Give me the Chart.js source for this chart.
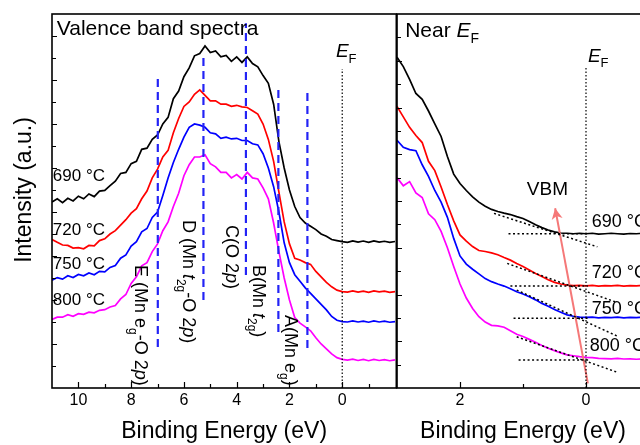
<!DOCTYPE html>
<html>
<head>
<meta charset="utf-8">
<script src="https://cdn.jsdelivr.net/npm/chart.js@4.4.1/dist/chart.umd.min.js"></script>
<style>
    html, body { margin: 0; padding: 0; background: #fff; overflow: hidden; }
    #wrap { position: relative; width: 640px; height: 445px; overflow: hidden; }
    #wrap canvas { position: absolute; top: 0; }
    #bandChart { left: 0; }
    #nearChart { left: 390px; }
</style>
</head>
<body>
<div id="wrap">
    <canvas id="bandChart" width="398" height="445"></canvas>
    <canvas id="nearChart" width="262" height="445"></canvas>
</div>
<script>
const FONT = '"Liberation Sans", Arial, sans-serif';

// 左图：价带谱 (binding energy, eV)
const energyWide = [11.0, 10.8, 10.6, 10.4, 10.2, 10.0, 9.8, 9.6, 9.4, 9.2, 9.0, 8.8, 8.6, 8.4, 8.2, 8.0, 7.8, 7.6, 7.4, 7.2,
    7.0, 6.8, 6.6, 6.4, 6.2, 6.0, 5.8, 5.6, 5.4, 5.2, 5.0, 4.8, 4.6, 4.4, 4.2, 4.0, 3.8, 3.6, 3.4, 3.2,
    3.0, 2.8, 2.6, 2.4, 2.2, 2.0, 1.8, 1.6, 1.4, 1.2, 1.0, 0.8, 0.6, 0.4, 0.2, 0.0, -0.2, -0.4, -0.6, -0.8,
    -1.0, -1.2, -1.4, -1.6, -1.8, -2.0];
const wide690 = [8.45, 8.6, 8.42, 8.62, 8.5, 8.72, 8.6, 8.82, 8.7, 8.95, 8.98, 9.2, 9.4, 9.75, 9.8, 10.2, 10.3, 10.85, 10.9, 11.3,
    11.5, 12.0, 12.3, 13.15, 13.5, 14.15, 14.55, 15.1, 15.2, 15.55, 15.25, 15.32, 15.05, 15.12, 14.85, 15.05, 14.8, 15.05, 14.75, 14.6,
    14.2, 13.85, 12.9, 11.2, 10.0, 9.0, 8.25, 7.75, 7.5, 7.35, 7.2, 7.0, 6.9, 6.75, 6.7, 6.65, 6.62, 6.69, 6.63, 6.68,
    6.62, 6.69, 6.63, 6.67, 6.62, 6.66];
const wide720 = [6.75, 6.62, 6.5, 6.48, 6.36, 6.38, 6.33, 6.48, 6.46, 6.7, 6.78, 7.0, 7.15, 7.4, 7.65, 7.95, 8.15, 8.6, 8.95, 9.55,
    9.95, 10.5, 10.8, 11.6, 12.25, 12.8, 13.0, 13.35, 13.55, 13.3, 13.05, 13.05, 12.9, 12.9, 12.8, 12.85, 12.78, 12.75, 12.6, 12.45,
    12.0, 11.3, 10.3, 8.9, 7.55, 6.55, 5.9, 5.82, 5.7, 5.62, 5.3, 5.05, 4.8, 4.6, 4.45, 4.38, 4.36, 4.41, 4.36, 4.4,
    4.35, 4.41, 4.37, 4.4, 4.35, 4.38];
const wide750 = [4.9, 5.02, 4.95, 5.1, 5.02, 5.16, 5.1, 5.23, 5.15, 5.3, 5.28, 5.48, 5.57, 5.9, 6.05, 6.45, 6.65, 7.1, 7.25, 7.75,
    8.0, 8.75, 9.55, 10.25, 10.85, 11.4, 11.85, 12.0, 11.95, 11.85, 11.6, 11.55, 11.35, 11.4, 11.32, 11.35, 11.25, 11.25, 11.1, 11.05,
    10.65, 10.0, 9.15, 8.0, 6.6, 5.7, 5.15, 4.85, 4.55, 4.3, 4.05, 3.8, 3.55, 3.25, 3.08, 3.02, 3.0, 3.05, 3.0, 3.04,
    2.99, 3.05, 3.0, 3.04, 2.99, 3.02];
const wide800 = [3.12, 3.22, 3.22, 3.33, 3.26, 3.38, 3.35, 3.45, 3.42, 3.53, 3.56, 3.68, 3.75, 4.05, 4.25, 4.75, 5.05, 5.55, 5.7, 6.2,
    6.55, 7.15, 7.55, 8.25, 8.85, 9.65, 10.15, 10.5, 10.5, 10.6, 10.2, 10.05, 9.8, 9.8, 9.55, 9.7, 9.5, 9.8, 9.55, 9.5,
    9.1, 8.6, 7.5, 6.2, 5.0, 4.0, 3.2, 2.95, 2.78, 2.6, 2.28, 2.0, 1.78, 1.55, 1.38, 1.3, 1.27, 1.31, 1.25, 1.3,
    1.24, 1.3, 1.25, 1.29, 1.24, 1.28];

// 右图：费米能级附近
const energyNear = [3.0, 2.9, 2.8, 2.7, 2.6, 2.5, 2.4, 2.3, 2.2, 2.1, 2.0, 1.9, 1.8, 1.7, 1.6, 1.5, 1.4, 1.3, 1.2, 1.1,
    1.0, 0.9, 0.8, 0.7, 0.6, 0.5, 0.4, 0.3, 0.2, 0.1, 0.0, -0.1, -0.2, -0.3, -0.4, -0.5, -0.6, -0.7, -0.8, -0.9, -1.0];
const near690 = [14.15, 13.75, 13.2, 12.6, 12.35, 11.85, 11.3, 10.76, 9.9, 9.15, 8.75, 8.45, 8.18, 7.95, 7.78, 7.64, 7.55, 7.48, 7.42, 7.33,
    7.25, 7.12, 6.98, 6.86, 6.76, 6.68, 6.63, 6.62, 6.6, 6.62, 6.6, 6.62, 6.58, 6.6, 6.62, 6.6, 6.58, 6.61, 6.6, 6.62, 6.6];
const near720 = [12.05, 11.6, 11.15, 10.8, 10.5, 9.7, 9.3, 8.6, 7.85, 7.15, 6.55, 6.28, 6.05, 5.88, 5.84, 5.78, 5.7, 5.58, 5.47, 5.33,
    5.2, 5.05, 4.9, 4.77, 4.63, 4.52, 4.45, 4.4, 4.38, 4.39, 4.37, 4.39, 4.36, 4.38, 4.37, 4.39, 4.36, 4.38, 4.37, 4.39, 4.37];
const near750 = [10.6, 10.3, 10.2, 10.15, 9.55, 9.05, 8.45, 7.95, 7.3, 6.4, 5.65, 5.3, 5.08, 4.88, 4.68, 4.55, 4.45, 4.36, 4.25, 4.12,
    4.02, 3.9, 3.77, 3.62, 3.5, 3.36, 3.24, 3.13, 3.07, 3.03, 3.02, 3.03, 3.0, 3.02, 3.01, 3.03, 3.0, 3.02, 3.01, 3.03, 3.01];
const near800 = [9.0, 8.65, 8.83, 8.35, 8.15, 7.45, 7.2, 6.7, 6.0, 5.2, 4.45, 3.85, 3.4, 3.05, 2.82, 2.68, 2.66, 2.6, 2.45, 2.3,
    2.2, 2.08, 1.96, 1.82, 1.7, 1.6, 1.5, 1.42, 1.38, 1.34, 1.31, 1.3, 1.27, 1.26, 1.25, 1.27, 1.24, 1.25, 1.23, 1.25, 1.24];

const temperatures = ['690 °C', '720 °C', '750 °C', '800 °C'];
const seriesColors = ['#000000', '#ff0000', '#0000ff', '#ff00ff'];

const wideTickLabels = [10, 8, 6, 4, 2, 0];
const nearTickLabels = [2, 0];

// 峰位 A~E (eV) 以及竖虚线的上下端
const peakEnergy = [1.32, 2.42, 3.65, 5.26, 6.99];
const peakLow = [1.82, 2.55, 5.14, 4.0, 1.86];
const peakHigh = [13.6, 13.64, 16.58, 15.2, 14.23];

// VBM 线性外推：[E1, I1, E2, I2]
const tangentLines = [
    [1.46, 7.47, -0.18, 6.04],
    [1.25, 5.33, -0.5, 3.65],
    [1.1, 4.19, -0.52, 2.19],
    [1.1, 2.19, -0.5, 0.67]
];
const baseLines = [
    [1.23, 6.6, -0.03, 6.6],
    [1.2, 4.36, -0.03, 4.36],
    [1.15, 2.98, -0.03, 2.98],
    [1.07, 1.2, -0.05, 1.2]
];
const vbmArrow = [-0.03, 0.2, 0.49, 7.69];

Chart.defaults.font.family = FONT;
Chart.defaults.color = '#000';

function curve(energies, values, color) {
    return {
        data: energies.map((e, i) => ({ x: e, y: values[i] })),
        borderColor: color, borderWidth: 1.7, pointRadius: 0, tension: 0, fill: false
    };
}

function segment(p, color, width, dash) {
    return {
        data: [{ x: p[0], y: p[1] }, { x: p[2], y: p[3] }],
        borderColor: color, borderWidth: width, borderDash: dash, pointRadius: 0, fill: false
    };
}

// 画多段文字（斜体 / 下标）
function drawRuns(ctx, runs, size) {
    let x = 0;
    runs.forEach(r => {
        const sub = r[1] === 'sub';
        const it = r[1] === 'it';
        const s = sub ? Math.round(size * 0.68) : size;
        ctx.font = (it ? 'italic ' : '') + s + 'px ' + FONT;
        ctx.fillText(r[0], x, sub ? size * 0.3 : 0);
        x += ctx.measureText(r[0]).width;
    });
}

// 向内的刻度 + 边框
const framePlugin = {
    id: 'frame',
    afterDraw(chart) {
        const { ctx, chartArea: a, scales: { x, y } } = chart;
        ctx.save();
        ctx.strokeStyle = '#000';
        ctx.lineWidth = 1.2;
        ctx.beginPath();
        x.ticks.forEach(t => {
            const v = t.value;
            if (!Number.isInteger(v)) return;
            const px = Math.round(x.getPixelForValue(v)) + 0.5;
            if (px <= a.left + 2 || px >= a.right - 2) return;
            const len = v % 2 === 0 ? 6 : 4;
            ctx.moveTo(px, a.bottom);
            ctx.lineTo(px, a.bottom - len);
        });
        y.ticks.forEach(t => {
            const v = t.value;
            if (!Number.isInteger(v)) return;
            const py = Math.round(y.getPixelForValue(v)) + 0.5;
            if (py <= a.top + 2 || py >= a.bottom - 2) return;
            const len = v % 2 === 0 ? 5 : 4;
            ctx.moveTo(a.left, py);
            ctx.lineTo(a.left + len, py);
        });
        ctx.stroke();
        ctx.lineWidth = 1.6;
        ctx.strokeRect(a.left, a.top, a.right - a.left, a.bottom - a.top);
        ctx.restore();
    }
};

function labelPlugin(labels) {
    return {
        id: 'labels',
        afterDraw(chart) {
            const { ctx, scales: { x, y } } = chart;
            ctx.save();
            ctx.fillStyle = '#000';
            labels.forEach(l => {
                ctx.save();
                ctx.translate(x.getPixelForValue(l.e), y.getPixelForValue(l.i));
                if (l.rot) ctx.rotate(l.rot * Math.PI / 2);
                ctx.textAlign = l.center ? 'center' : 'left';
                ctx.textBaseline = l.center ? 'middle' : 'alphabetic';
                drawRuns(ctx, l.runs, l.size);
                ctx.restore();
            });
            ctx.restore();
        }
    };
}

const arrowPlugin = {
    id: 'arrowHead',
    afterDatasetsDraw(chart) {
        const { ctx, scales: { x, y } } = chart;
        const x1 = x.getPixelForValue(vbmArrow[0]), y1 = y.getPixelForValue(vbmArrow[1]);
        const x2 = x.getPixelForValue(vbmArrow[2]), y2 = y.getPixelForValue(vbmArrow[3]);
        const ang = Math.atan2(y2 - y1, x2 - x1);
        ctx.save();
        ctx.fillStyle = 'rgb(245,120,120)';
        ctx.translate(x2, y2);
        ctx.rotate(ang);
        ctx.beginPath();
        ctx.moveTo(0, 0);
        ctx.lineTo(-11, -5.5);
        ctx.lineTo(-8, 0);
        ctx.lineTo(-11, 5.5);
        ctx.closePath();
        ctx.fill();
        ctx.restore();
    }
};

function tickLabel(list) {
    return v => list.includes(v) ? String(v) : '';
}

// ---------- 左图 ----------
const wideSeries = [wide690, wide720, wide750, wide800];
const wideDatasets = [];
peakEnergy.forEach((e, i) => {
    wideDatasets.push(segment([e, peakLow[i], e, peakHigh[i]], '#2323f5', 2.2, [8, 5]));
});
wideDatasets.push(segment([0, 0, 0, 14.5], '#000', 1.2, [1.5, 2]));
wideSeries.forEach((s, i) => wideDatasets.push(curve(energyWide, s, seriesColors[i])));

const wideLabels = [
    { e: 12.02, i: 9.0, size: 23, rot: -1, center: true, runs: [['Intensity (a.u.)']] },
    { e: 10.82, i: 16.05, size: 21, runs: [['Valence band spectra']] },
    { e: 10.97, i: 9.42, size: 17, runs: [[temperatures[0]]] },
    { e: 10.97, i: 6.95, size: 17, runs: [[temperatures[1]]] },
    { e: 10.97, i: 5.41, size: 17, runs: [[temperatures[2]]] },
    { e: 10.97, i: 3.77, size: 17, runs: [[temperatures[3]]] },
    { e: 0.24, i: 15.05, size: 19, runs: [['E', 'it'], ['F', 'sub']] },
    { e: 7.87, i: 5.59, size: 18, rot: 1, runs: [['E (Mn e'], ['g', 'sub'], ['-O 2'], ['p', 'it'], [')']] },
    { e: 6.05, i: 7.64, size: 18, rot: 1, runs: [['D (Mn '], ['t', 'it'], ['2g', 'sub'], ['-O 2'], ['p', 'it'], [')']] },
    { e: 4.41, i: 7.41, size: 18, rot: 1, runs: [['C(O 2'], ['p', 'it'], [')']] },
    { e: 3.37, i: 5.59, size: 18, rot: 1, runs: [['B(Mn '], ['t', 'it'], ['2g', 'sub'], [')']] },
    { e: 2.17, i: 3.32, size: 18, rot: 1, runs: [['A(Mn e'], ['g', 'sub'], [')']] }
];

new Chart(document.getElementById('bandChart'), {
    type: 'line',
    data: { datasets: wideDatasets },
    options: {
        responsive: false,
        animation: false,
        devicePixelRatio: 1,
        layout: { padding: { top: 14, right: 1, left: 0, bottom: 0 } },
        plugins: { legend: { display: false }, tooltip: { enabled: false } },
        scales: {
            x: {
                type: 'linear', reverse: true, min: -2.05, max: 11.0,
                grid: { display: false, drawTicks: false },
                border: { display: false },
                ticks: {
                    stepSize: 1, autoSkip: false, includeBounds: false, maxRotation: 0,
                    padding: 3, font: { size: 16 }, color: '#000',
                    callback: tickLabel(wideTickLabels)
                },
                title: { display: true, text: 'Binding Energy (eV)', font: { size: 23 }, color: '#000', padding: { top: 0, bottom: 0 } },
                afterFit: s => { s.height = 57; }
            },
            y: {
                type: 'linear', min: 0, max: 17,
                grid: { display: false, drawTicks: false },
                border: { display: false },
                ticks: { stepSize: 1, display: false },
                afterFit: s => { s.width = 52; }
            }
        }
    },
    plugins: [framePlugin, labelPlugin(wideLabels)]
});

// ---------- 右图 ----------
const nearSeries = [near690, near720, near750, near800];
const nearDatasets = [];
nearDatasets.push(segment([0, 0, 0, 13.7], '#000', 1.2, [1.5, 2]));
tangentLines.forEach(p => nearDatasets.push(segment(p, '#000', 1.5, [2, 2.5])));
baseLines.forEach(p => nearDatasets.push(segment(p, '#000', 1.5, [2, 2.5])));
nearDatasets.push(segment(vbmArrow, 'rgb(245,120,120)', 2, []));
nearSeries.forEach((s, i) => nearDatasets.push(curve(energyNear, s, seriesColors[i])));

const nearLabels = [
    { e: 2.87, i: 15.02, size: 21, runs: [['Near '], ['E', 'it'], ['F', 'sub']] },
    { e: -0.03, i: 13.96, size: 19, runs: [['E', 'it'], ['F', 'sub']] },
    { e: 0.94, i: 8.26, size: 19, runs: [['VBM']] },
    { e: -0.09, i: 6.87, size: 18, runs: [[temperatures[0]]] },
    { e: -0.09, i: 4.69, size: 18, runs: [[temperatures[1]]] },
    { e: -0.09, i: 3.15, size: 18, runs: [[temperatures[2]]] },
    { e: -0.06, i: 1.58, size: 18, runs: [[temperatures[3]]] }
];

new Chart(document.getElementById('nearChart'), {
    type: 'line',
    data: { datasets: nearDatasets },
    options: {
        responsive: false,
        animation: false,
        devicePixelRatio: 1,
        layout: { padding: { top: 14, right: 0, left: 0, bottom: 0 } },
        plugins: { legend: { display: false }, tooltip: { enabled: false } },
        scales: {
            x: {
                type: 'linear', reverse: true, min: -1.0, max: 3.0,
                grid: { display: false, drawTicks: false },
                border: { display: false },
                ticks: {
                    stepSize: 1, autoSkip: false, includeBounds: false, maxRotation: 0,
                    padding: 3, font: { size: 16 }, color: '#000',
                    callback: tickLabel(nearTickLabels)
                },
                title: { display: true, text: 'Binding Energy (eV)', font: { size: 23 }, color: '#000', padding: { top: 0, bottom: 0 } },
                afterFit: s => { s.height = 57; }
            },
            y: {
                type: 'linear', min: 0, max: 16,
                grid: { display: false, drawTicks: false },
                border: { display: false },
                ticks: { stepSize: 1, display: false },
                afterFit: s => { s.width = 7; }
            }
        }
    },
    plugins: [framePlugin, arrowPlugin, labelPlugin(nearLabels)]
});
</script>
</body>
</html>
